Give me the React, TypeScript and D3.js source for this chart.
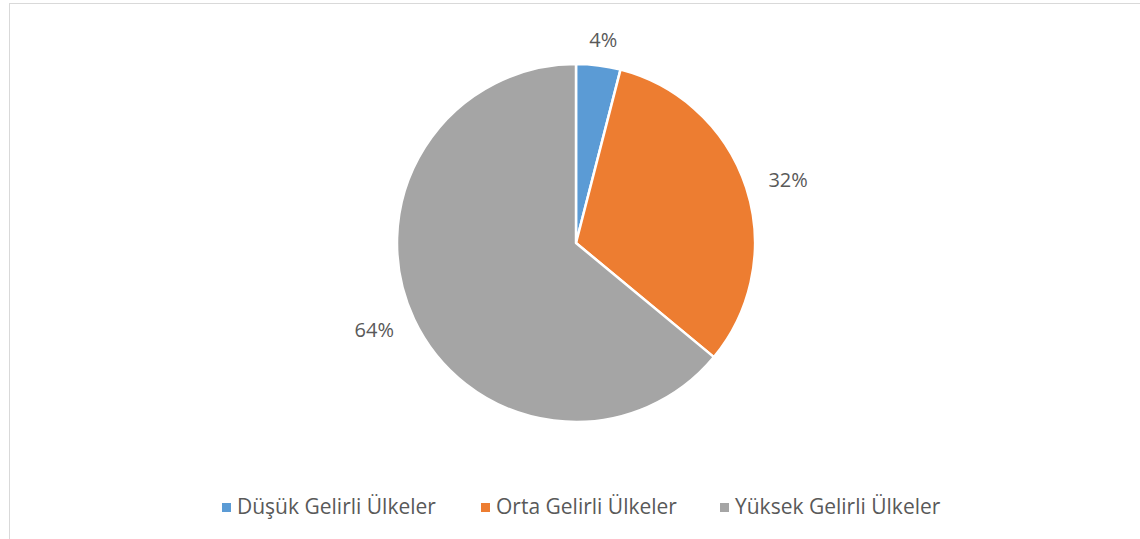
import React from "react";
import * as d3 from "d3";

const categories = ["Düşük Gelirli Ülkeler", "Orta Gelirli Ülkeler", "Yüksek Gelirli Ülkeler"];
const values = [4, 32, 64];
const labels = ["4%", "32%", "64%"];
const colors = ["#5B9BD5", "#ED7D31", "#A5A5A5"];

const W = 1140;
const H = 539;
const cx = 576;
const cy = 243;
const R = 179;
const labelR = 205;
const FONT = "'Open Sans', 'Noto Sans', sans-serif";

export default function App() {
  const pie = d3.pie<number>().sort(null).value((d) => d)(values);
  const arc = d3.arc<d3.PieArcDatum<number>>().innerRadius(0).outerRadius(R);

  const legendX = [222, 481, 720];

  return (
    <svg
      width={W}
      height={H}
      style={{ position: "absolute", left: 0, top: 0, background: "#fff" }}
    >
      <rect x={9.5} y={3.5} width={W + 10} height={H + 10} fill="#fff" stroke="#d9d9d9" strokeWidth={1} />
      <g transform={`translate(${cx},${cy})`}>
        {pie.map((p, i) => (
          <path key={i} d={arc(p) || ""} fill={colors[i]} stroke="#fff" strokeWidth={2.5} strokeLinejoin="round" />
        ))}
        {pie.map((p, i) => {
          const a = (p.startAngle + p.endAngle) / 2;
          const x = Math.sin(a) * labelR;
          const y = -Math.cos(a) * labelR;
          const hw = labels[i].length * 6;
          const xc = x + Math.sin(a) * hw;
          return (
            <text
              key={i}
              x={xc}
              y={y}
              dy="0.35em"
              textAnchor="middle"
              fontFamily={FONT}
              fontSize={20}
              fill="#595959"
            >
              {labels[i]}
            </text>
          );
        })}
      </g>
      {categories.map((c, i) => (
        <g key={c}>
          <rect x={legendX[i]} y={503} width={9} height={9} fill={colors[i]} />
          <text x={legendX[i] + 15} y={514} fontFamily={FONT} fontSize={21} fill="#595959">
            {c}
          </text>
        </g>
      ))}
    </svg>
  );
}
